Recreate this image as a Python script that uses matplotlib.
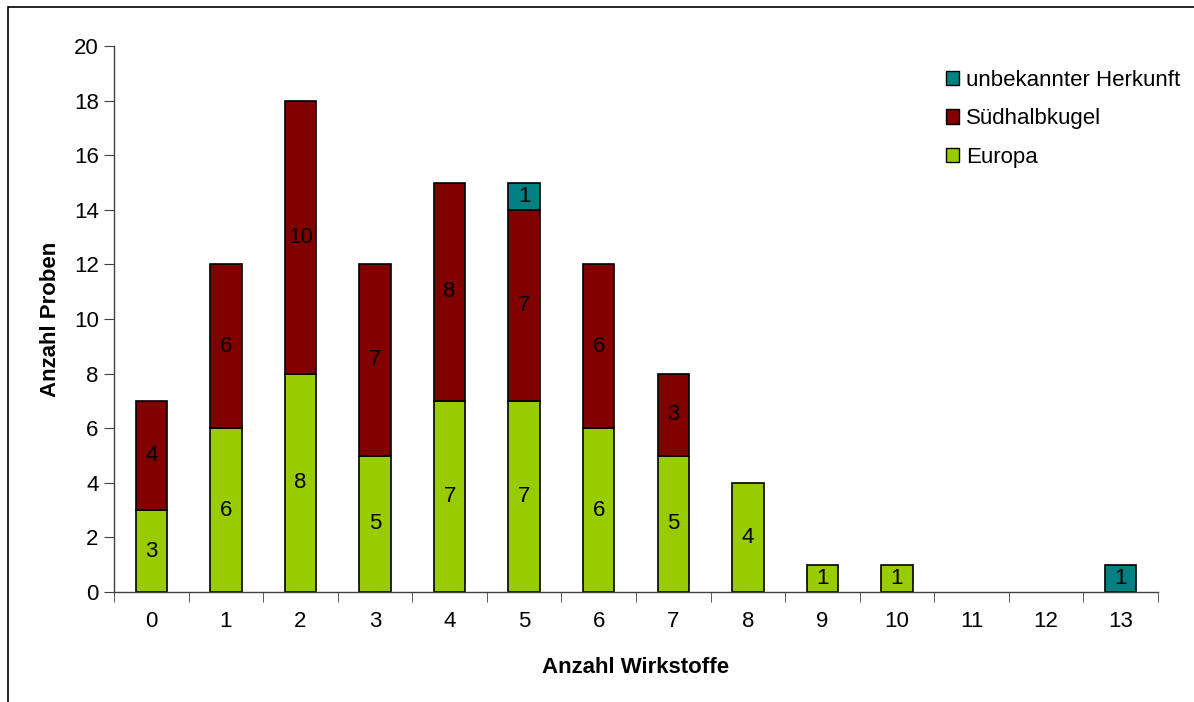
import matplotlib
matplotlib.use("Agg")
import matplotlib.pyplot as plt
import numpy as np
from matplotlib.patches import Rectangle, Patch

plt.rcParams['font.family'] = ['Liberation Sans', 'DejaVu Sans']

categories = [str(i) for i in range(14)]
europa = [3, 6, 8, 5, 7, 7, 6, 5, 4, 1, 1, 0, 0, 0]
sued = [4, 6, 10, 7, 8, 7, 6, 3, 0, 0, 0, 0, 0, 0]
unbekannt = [0, 0, 0, 0, 0, 1, 0, 0, 0, 0, 0, 0, 0, 1]
series_names = ['Europa', 'Südhalbkugel', 'unbekannter Herkunft']
colors = ['#99CC00', '#800000', '#008080']

FS = 16

fig = plt.figure(figsize=(11.94, 7.02), dpi=100)
ax = fig.add_axes([114/1194, 1-592/702, (1158-114)/1194, (592-46)/702])

# outer frame
fig.patches.append(Rectangle((8/1194, -0.1), 1.2, 1-7/702+0.1, transform=fig.transFigure,
                             fill=False, edgecolor='black', linewidth=1.2))

x = np.arange(len(categories))
w = 0.42
bottom = np.zeros(len(categories))
for vals, name, col in zip([europa, sued, unbekannt], series_names, colors):
    vals = np.array(vals, dtype=float)
    nz = vals > 0
    ax.bar(x[nz], vals[nz], w, bottom=bottom[nz], color=col, edgecolor='black', linewidth=1.2, label=name)
    for xi, v, b in zip(x, vals, bottom):
        if v > 0:
            ax.text(xi, b + v/2, f'{int(v)}', ha='center', va='center', fontsize=FS, color='black')
    bottom += vals

ax.set_xlim(-0.5, len(categories)-0.5)
ax.set_ylim(0, 20)
ax.set_yticks(range(0, 21, 2))
ax.set_xticks(x)
ax.set_xticklabels(categories, fontsize=FS)
ax.set_xticks(np.arange(-0.5, len(categories)), minor=True)
ax.tick_params(axis='x', which='major', length=0, pad=14)
ax.tick_params(axis='x', which='minor', length=7, direction='out', color='#404040')
ax.tick_params(axis='y', labelsize=FS, length=7, direction='out', color='#404040', pad=4)
for s in ['top', 'right']:
    ax.spines[s].set_visible(False)
for s in ['left', 'bottom']:
    ax.spines[s].set_color('#404040')
    ax.spines[s].set_linewidth(1.0)

ax.set_xlabel('Anzahl Wirkstoffe', fontsize=FS, fontweight='bold', labelpad=18)
ax.set_ylabel('Anzahl Proben', fontsize=FS, fontweight='bold', labelpad=9)

handles = [Patch(facecolor=c, edgecolor='black', label=n) for c, n in zip(colors[::-1], series_names[::-1])]
leg = ax.legend(handles=handles, loc='upper left', bbox_to_anchor=(0.797, 0.956), frameon=False,
                fontsize=FS, handlelength=0.6, handleheight=0.6, handletextpad=0.3, labelspacing=0.78,
                borderaxespad=0, borderpad=0)

fig.savefig('out.png', dpi=100)
